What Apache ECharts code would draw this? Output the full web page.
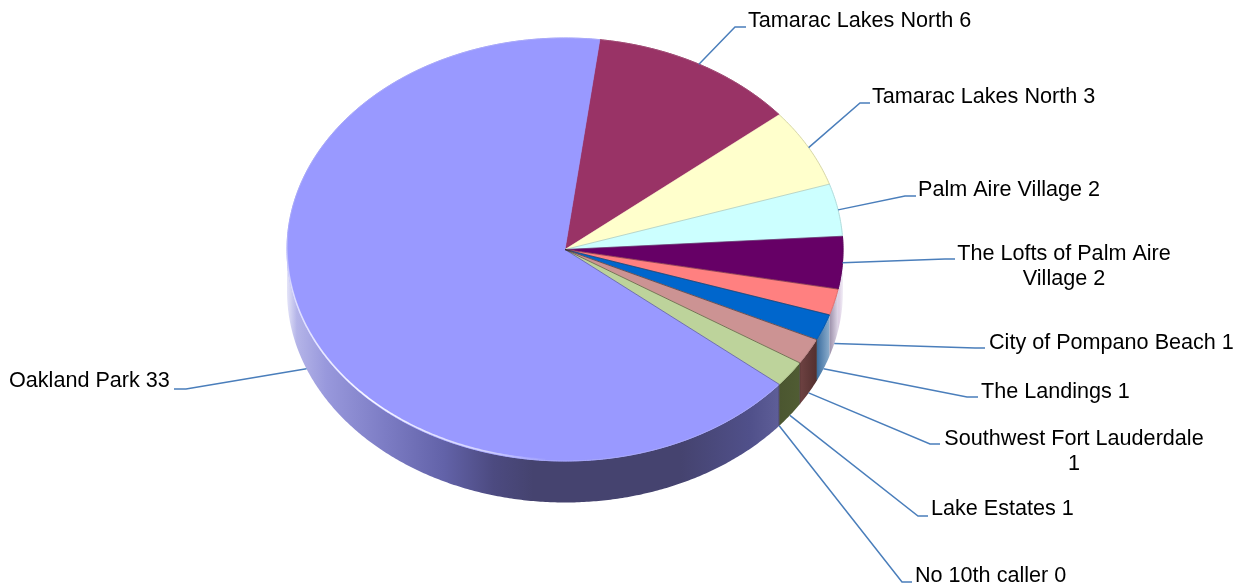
<!DOCTYPE html>
<html>
<head>
<meta charset="utf-8">
<style>html,body{margin:0;padding:0;background:#fff}#chart{width:1248px;height:586px}</style>
<script src="https://cdn.jsdelivr.net/npm/echarts@6/dist/echarts.min.js"></script>
</head>
<body>
<div id="chart"></div>
<script>
// --- data ---
const sliceNames = ['Tamarac Lakes North 6','Tamarac Lakes North 3','Palm Aire Village 2','The Lofts of Palm Aire Village 2','City of Pompano Beach 1','The Landings 1','Southwest Fort Lauderdale 1','Lake Estates 1','No 10th caller 0','Oakland Park 33'];
const sliceValues = [6,3,2,2,1,1,1,1,0,33];

// --- styles ---
const topColors = ['#993366','#ffffcc','#ccffff','#660066','#ff8080','#0066cc','#cc9393','#bdd39b','#9999ff','#9999ff'];
const wallStops = [
  null, null, null,
  [[0,'#d8c8e0'],[1,'#f2eef6']],
  [[0,'#9a8ea8'],[1,'#e0d8e8']],
  [[0,'#3a6c9e'],[1,'#8aaccc']],
  [[0,'#6e4242'],[1,'#54302f']],
  [[0,'#4b5630'],[1,'#505c33']],
  null,
  [[0,'#e4e4f8'],[0.02,'#b4b4e8'],[0.08,'#9898dc'],[0.2,'#7c7cc4'],[0.32,'#6262a8'],[0.42,'#4c4a80'],[0.5,'#45436f'],[0.8,'#45436f'],[0.94,'#50508a'],[1,'#5e5e98']]
];
const rimColors = ['#a04a74','#d6d6aa','#b4dcdc','#5a005a','#e07070','#0058b0','#b88484','#a8bc88','#a8a8fa','#a8a8fa'];
const sepColors = ['', 'rgba(120,120,90,0.3)','rgba(90,110,110,0.3)','rgba(50,20,40,0.45)','rgba(50,30,30,0.45)','rgba(40,30,30,0.55)','rgba(60,40,30,0.55)','rgba(40,40,60,0.4)'];
const labelLayout = [
  {lines:['Tamarac Lakes North 6'],x:748,y:21,align:'left',elbow:[735,27],end:[746,27]},
  {lines:['Tamarac Lakes North 3'],x:872,y:97,align:'left',elbow:[860,103],end:[870,103]},
  {lines:['Palm Aire Village 2'],x:918,y:190,align:'left',elbow:[905,196],end:[916,196]},
  {lines:['The Lofts of Palm Aire','Village 2'],x:1064,y:254,align:'center',elbow:[945,259],end:[955,259]},
  {lines:['City of Pompano Beach 1'],x:989,y:343,align:'left',elbow:[975,348],end:[985,348]},
  {lines:['The Landings 1'],x:981,y:392,align:'left',elbow:[967,397],end:[978,397]},
  {lines:['Southwest Fort Lauderdale','1'],x:1074,y:439,align:'center',elbow:[930,444],end:[940,444]},
  {lines:['Lake Estates 1'],x:931,y:509,align:'left',elbow:[918,516],end:[928,516]},
  {lines:['No 10th caller 0'],x:915,y:576,align:'left',elbow:[902,582],end:[912,582]},
  {lines:['Oakland Park 33'],x:9,y:381,align:'left',elbow:[186,389],end:[174,389]}
];
const geom = {cx:565,cy:249.5,rx:278,ry:211.5,depth:41.5,startDeg:7.2,lineHeight:25,fontSize:21.6};
const leaderColor = '#4a7ebb';

const total = sliceValues.reduce((a,b)=>a+b,0);
const spans = [];
let acc = geom.startDeg;
sliceValues.forEach(v=>{const s=acc;acc+=v/total*360;spans.push([s,acc]);});

function pt(deg,dz){
  const r=deg*Math.PI/180;
  return [geom.cx+geom.rx*Math.sin(r), geom.cy-geom.ry*Math.cos(r)+(dz||0)];
}
function arc(a,b,dz){
  const out=[],n=Math.max(1,Math.ceil(Math.abs(b-a)*2));
  for(let i=0;i<=n;i++) out.push(pt(a+(b-a)*i/n,dz));
  return out;
}
function grad(stops,x,y,x2,y2){
  return {type:'linear',x:x||0,y:y||0,x2:x2==null?1:x2,y2:y2||0,colorStops:stops.map(s=>({offset:s[0],color:s[1]}))};
}

function renderSlice(params,api){
  const i=api.value(1), v=api.value(0), k=[];
  if(v===0) return {type:'group',children:k};
  const [a,b]=spans[i];
  const wa=Math.max(a,90), wb=Math.min(b,270);
  if(wb>wa && wallStops[i]){
    const pts=arc(wa,wb,0).concat(arc(wb,wa,geom.depth));
    k.push({type:'polygon',shape:{points:pts},style:{fill:grad(wallStops[i])},z2:1});
  }
  const color=topColors[i];
  k.push({type:'polygon',shape:{points:[[geom.cx,geom.cy]].concat(arc(a,b,0))},
    style:{fill:color,stroke:color,lineWidth:0.6},z2:2});
  k.push({type:'polyline',shape:{points:arc(a,b,0)},style:{fill:null,stroke:rimColors[i],lineWidth:1},z2:3});
  // slice separators for everything between the two large slices
  if(i>=1 && i<=7){
    k.push({type:'line',shape:{x1:geom.cx,y1:geom.cy,x2:pt(b)[0],y2:pt(b)[1]},
      style:{stroke:sepColors[i],lineWidth:1},z2:4});
    if(b>=110){
      k.push({type:'line',shape:{x1:pt(b)[0],y1:pt(b)[1],x2:pt(b)[0],y2:pt(b)[1]+geom.depth},
        style:{stroke:'rgba(40,30,30,0.5)',lineWidth:1},z2:4});
    }
  }
  // soft white bevel on the large slice's front-left rim
  if(i===9){
    k.push({type:'polyline',shape:{points:arc(184,274,-1)},
      style:{fill:null,lineWidth:1.6,stroke:grad([[0,'rgba(255,255,255,0)'],[0.15,'rgba(255,255,255,0.55)'],[0.5,'rgba(255,255,255,0.95)'],[0.88,'rgba(255,255,255,0.6)'],[1,'rgba(255,255,255,0)']],1,1,0,0)},z2:5});
  }
  return {type:'group',children:k};
}

function renderLabel(params,api){
  const i=api.value(1), L=labelLayout[i], k=[];
  const [a,b]=spans[i], mid=(a+b)/2;
  const below=Math.cos(mid*Math.PI/180)<-0.15;
  const s=pt(mid,below?geom.depth:0);
  k.push({type:'polyline',shape:{points:[s,L.elbow,L.end]},style:{fill:null,stroke:leaderColor,lineWidth:1.5}});
  L.lines.forEach((t,n)=>{
    k.push({type:'text',x:L.x,y:L.y+n*geom.lineHeight,style:{text:t,fill:'#000',align:L.align,verticalAlign:'middle',
      font:geom.fontSize+'px "Liberation Sans", Arial, sans-serif'}});
  });
  return {type:'group',children:k};
}

const rows=sliceValues.map((v,i)=>({name:sliceNames[i],value:[v,i]}));
const chart=echarts.init(document.getElementById('chart'),null,{renderer:'canvas'});
chart.setOption({
  animation:false,
  backgroundColor:'#ffffff',
  xAxis:{show:false,min:0,max:1},
  yAxis:{show:false,min:0,max:1},
  grid:{left:0,right:0,top:0,bottom:0},
  series:[
    {type:'custom',name:'slices',coordinateSystem:'none',renderItem:renderSlice,data:rows,silent:true,z:2},
    {type:'custom',name:'labels',coordinateSystem:'none',renderItem:renderLabel,data:rows,silent:true,z:3}
  ]
});
</script>
</body>
</html>
